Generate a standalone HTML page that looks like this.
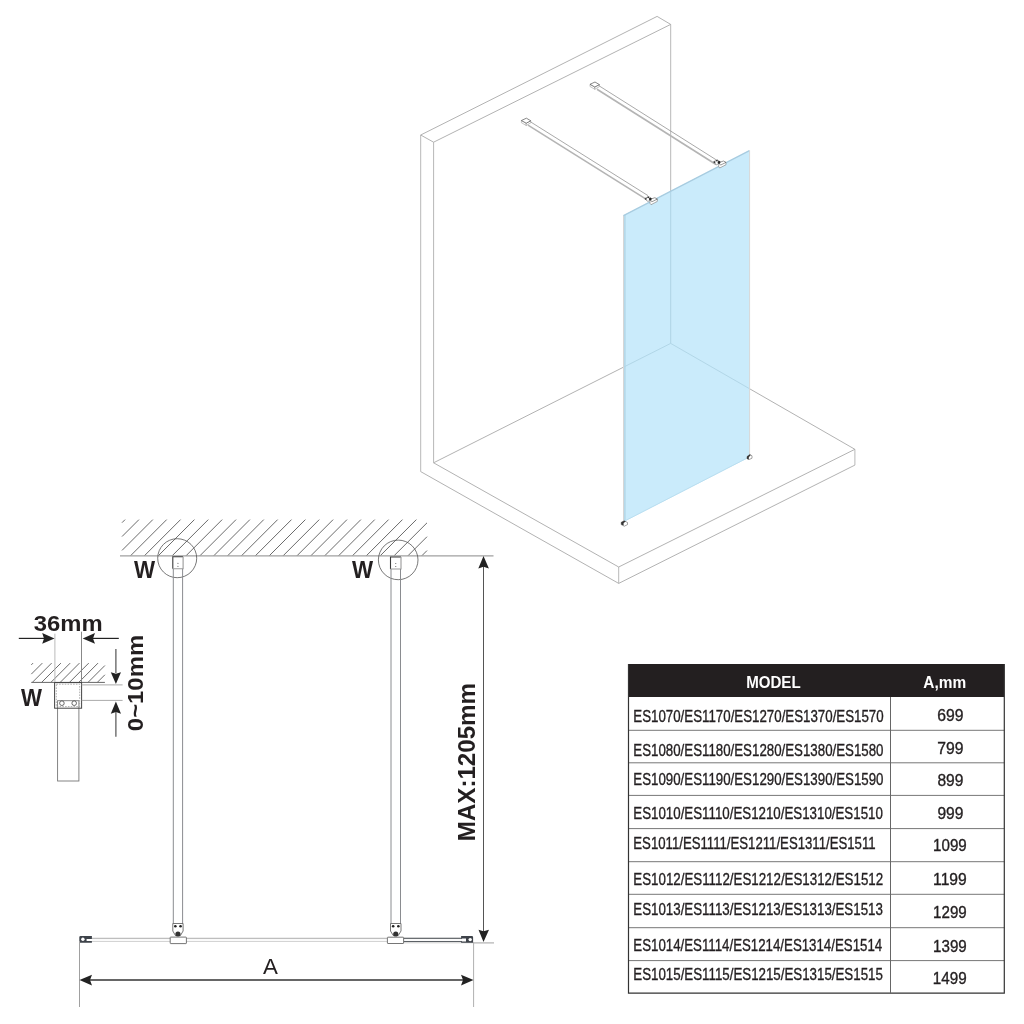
<!DOCTYPE html>
<html><head><meta charset="utf-8"><style>
html,body{margin:0;padding:0;background:#fff;width:1024px;height:1024px;overflow:hidden}
svg{display:block;will-change:transform}
text{font-family:"Liberation Sans", sans-serif}
</style></head><body>
<svg width="1024" height="1024" viewBox="0 0 1024 1024">
<path d="M420.7 471.6 L420.7 135 M433.6 142.2 L433.6 462.8 M670.7 24.4 L670.7 343.4 M618.7 567 L618.7 583.4 M854.9 449.3 L854.9 465.1" fill="none" stroke="#b8b8b8" stroke-width="1"/><path d="M420.7 135 L657.1 16.4 L670.7 24.4 L433.6 142.2 L420.7 135 M670.7 343.4 L433.6 462.8 L618.7 567 L854.9 449.3 L670.7 343.4 M420.7 471.6 L618.7 583.4 L854.9 465.1" fill="none" stroke="#a9a9a9" stroke-width="0.9" stroke-linejoin="round"/>
<defs><clipPath id="gc"><path d="M623 215.5 L749.6 150.2 L749.6 457.3 L623 522.3 Z"/></clipPath></defs>
<path d="M623 215.5 L749.6 150.2 L749.6 457.3 L623 522.3 Z" fill="#caebfb" stroke="none"/>
<g clip-path="url(#gc)"><path d="M420.7 471.6 L420.7 135 M433.6 142.2 L433.6 462.8 M670.7 24.4 L670.7 343.4 M618.7 567 L618.7 583.4 M854.9 449.3 L854.9 465.1" fill="none" stroke="#afd4e4" stroke-width="1"/><path d="M420.7 135 L657.1 16.4 L670.7 24.4 L433.6 142.2 L420.7 135 M670.7 343.4 L433.6 462.8 L618.7 567 L854.9 449.3 L670.7 343.4 M420.7 471.6 L618.7 583.4 L854.9 465.1" fill="none" stroke="#afd4e4" stroke-width="0.9" stroke-linejoin="round"/></g>
<path d="M623.5 215.4 L623.5 522" fill="none" stroke="#d6d6d6" stroke-width="1"/>
<path d="M624.9 214.9 L624.9 521.4" fill="none" stroke="#b0d5e6" stroke-width="1.4"/>
<path d="M623.5 215.6 L749.4 150.6" fill="none" stroke="#a8cce0" stroke-width="1.3"/>
<path d="M623.5 521.6 L749.4 456.9" fill="none" stroke="#b8dcee" stroke-width="0.9"/>
<path d="M749.6 150.5 L749.6 457" fill="none" stroke="#d8d8d8" stroke-width="1"/>
<path d="M528.00 120.27L648.00 195.63" stroke="#9a9a9a" stroke-width="0.85" fill="none"/><path d="M528.00 125.07L648.00 200.43" stroke="#b4b4b4" stroke-width="1.6" fill="none"/>
<path d="M597.00 84.50L716.00 159.71" stroke="#9a9a9a" stroke-width="0.85" fill="none"/><path d="M597.00 89.30L716.00 164.51" stroke="#b4b4b4" stroke-width="1.6" fill="none"/>
<path d="M521.4 120.5 L521.4 122.7 L526.1999999999999 125.5 L526.1999999999999 123.2 Z" fill="#fff" stroke="#aaa" stroke-width="0.7"/><path d="M526.1999999999999 123.2 L526.1999999999999 125.5 L530.8 122.8 L530.8 120.8 Z" fill="#fff" stroke="#999" stroke-width="0.6"/><path d="M521.4 120.5 L526.4 118.2 L530.8 120.8 L526.1999999999999 123.2 Z" fill="#fff" stroke="#555" stroke-width="0.7"/>
<path d="M590 84.3 L590 86.5 L594.8 89.3 L594.8 87 Z" fill="#fff" stroke="#aaa" stroke-width="0.7"/><path d="M594.8 87 L594.8 89.3 L599.4 86.6 L599.4 84.6 Z" fill="#fff" stroke="#999" stroke-width="0.6"/><path d="M590 84.3 L595 82 L599.4 84.6 L594.8 87 Z" fill="#fff" stroke="#555" stroke-width="0.7"/>
<path d="M644.5 198.70000000000002 L648.5 196.5 L651.8 198.70000000000002 L648 201.5 Z" fill="#fff" stroke="#777" stroke-width="0.7"/><circle cx="645.9" cy="198.8" r="0.9" fill="#333"/><circle cx="648.2" cy="197.3" r="0.9" fill="#333"/><path d="M650 199.3 L650 203.3 L651 204.70000000000002 L657.3 201.4 L657.3 199.10000000000002 Z" fill="#fff" stroke="#777" stroke-width="0.6"/><path d="M650 199.3 L654.9 197.70000000000002 L657.3 199.10000000000002 L651.8 201.8 Z" fill="#fff" stroke="#555" stroke-width="0.6"/><circle cx="650.3" cy="199.10000000000002" r="1.3" fill="#222"/>
<path d="M713.2 162.0 L717.2 159.79999999999998 L720.5 162.0 L716.7 164.79999999999998 Z" fill="#fff" stroke="#777" stroke-width="0.7"/><circle cx="714.6" cy="162.1" r="0.9" fill="#333"/><circle cx="716.9000000000001" cy="160.6" r="0.9" fill="#333"/><path d="M718.7 162.6 L718.7 166.6 L719.7 168.0 L726.0 164.7 L726.0 162.4 Z" fill="#fff" stroke="#777" stroke-width="0.6"/><path d="M718.7 162.6 L723.6 161.0 L726.0 162.4 L720.5 165.1 Z" fill="#fff" stroke="#555" stroke-width="0.6"/><circle cx="719.0" cy="162.4" r="1.3" fill="#222"/>
<path d="M621.2 522.3 L624.2 520.8 L627.5 522.5 L627.5 524.6 L624.3 526.2 L621.2 524.6Z" fill="#fff" stroke="#666" stroke-width="0.6"/>
<path d="M621.2 522.3 L624.2 520.8 L625.8 521.6 L623.6 523.1 L623.6 525.6 L621.2 524.6Z" fill="#333" stroke="none"/>
<path d="M747 456.6 L749.8 454.4 L752 455.8 L752 458.2 L749 459.6 L747 458.7Z" fill="#fff" stroke="#666" stroke-width="0.6"/>
<path d="M747 456.6 L749.8 454.4 L750.8 455 L748.8 457.2 L748.8 459.5 L747 458.7Z" fill="#333" stroke="none"/>
<path d="M122.00 522.69L125.09 519.60M122.00 536.56L138.96 519.60M122.00 550.43L152.83 519.60M130.50 555.80L166.70 519.60M144.37 555.80L180.57 519.60M158.24 555.80L194.44 519.60M172.11 555.80L208.31 519.60M185.98 555.80L222.18 519.60M199.85 555.80L236.05 519.60M213.72 555.80L249.92 519.60M227.59 555.80L263.79 519.60M241.46 555.80L277.66 519.60M255.33 555.80L291.53 519.60M269.20 555.80L305.40 519.60M283.07 555.80L319.27 519.60M296.94 555.80L333.14 519.60M310.81 555.80L347.01 519.60M324.68 555.80L360.88 519.60M338.55 555.80L374.75 519.60M352.42 555.80L388.62 519.60M366.29 555.80L402.49 519.60M380.16 555.80L416.36 519.60M394.03 555.80L427.00 522.83M407.90 555.80L427.00 536.70M421.77 555.80L427.00 550.57" stroke="#6a6a6a" stroke-width="1.0" fill="none"/>
<line x1="120" y1="555.8" x2="493.5" y2="555.8" stroke="#a0a0a0" stroke-width="1.3"/>
<circle cx="177.2" cy="558.2" r="19.5" fill="none" stroke="#555" stroke-width="0.8"/>
<circle cx="398.2" cy="559.9" r="19.8" fill="none" stroke="#555" stroke-width="0.8"/>
<rect x="172.8" y="556.8" width="10.299999999999983" height="12" fill="#fff" stroke="none"/><path d="M172.8 568.8 L172.8 556.8 L183.1 556.8" stroke="#3a3a3a" stroke-width="1.1" fill="none"/><path d="M183.1 556.8 L183.1 568.8 L172.8 568.8" stroke="#9a9a9a" stroke-width="1.1" fill="none"/><circle cx="177.95" cy="563.3" r="0.6" fill="#666"/><circle cx="177.95" cy="566.3" r="0.6" fill="#666"/><path d="M173.3 568.8 L173.3 923.5 M182.6 568.8 L182.6 923.5" stroke="#8a8c90" stroke-width="1" fill="none"/><path d="M172.8 923.5 L183.1 923.5 L183.1 931 L180.45 935.5 L175.45 935.5 L172.8 931 Z" fill="#fff" stroke="#555" stroke-width="0.8"/><circle cx="175.35" cy="926.2" r="1.3" fill="#222"/><circle cx="180.54999999999998" cy="926.2" r="1.3" fill="#222"/><circle cx="177.95" cy="934" r="2.6" fill="#333"/>
<rect x="390.5" y="557.0" width="10.5" height="12" fill="#fff" stroke="none"/><path d="M390.5 569.0 L390.5 557.0 L401.0 557.0" stroke="#3a3a3a" stroke-width="1.1" fill="none"/><path d="M401.0 557.0 L401.0 569.0 L390.5 569.0" stroke="#9a9a9a" stroke-width="1.1" fill="none"/><circle cx="395.75" cy="563.5" r="0.6" fill="#666"/><circle cx="395.75" cy="566.5" r="0.6" fill="#666"/><path d="M391 569.0 L391 923.5 M400.5 569.0 L400.5 923.5" stroke="#8a8c90" stroke-width="1" fill="none"/><path d="M390.5 923.5 L401.0 923.5 L401.0 931 L398.25 935.5 L393.25 935.5 L390.5 931 Z" fill="#fff" stroke="#555" stroke-width="0.8"/><circle cx="393.15" cy="926.2" r="1.3" fill="#222"/><circle cx="398.35" cy="926.2" r="1.3" fill="#222"/><circle cx="395.75" cy="934" r="2.6" fill="#333"/>
<rect x="92" y="938.3" width="370" height="3.2" fill="#fafafa" stroke="none"/>
<path d="M92 938.3 L387 938.3 M403.6 938.3 L462 938.3" stroke="#9a9a9a" stroke-width="0.8" fill="none"/>
<path d="M92 941.5 L387 941.5" stroke="#cfcfcf" stroke-width="0.9" fill="none"/>
<path d="M403.6 938.3 L462 938.3 M403.6 941.5 L462 941.5" stroke="#4a4f55" stroke-width="0.9" fill="none"/>
<path d="M403.6 942.8 L473 942.8" stroke="#c8c8c8" stroke-width="0.9" fill="none"/>
<rect x="170.2" y="937.1" width="16.2" height="6.5" fill="#fff" stroke="#666" stroke-width="0.9" rx="0.5"/>
<rect x="387.4" y="937.2" width="16.2" height="6.3" fill="#fff" stroke="#666" stroke-width="0.9" rx="0.5"/>
<path d="M91.9 935.9 L80.6 935.9 Q79.3 935.9 79.3 937.2 L79.3 942.8 L91.9 942.8 L91.9 941.1 L86.6 941.1 L86.6 938.9 L91.9 938.9Z" fill="#3e434a" stroke="none"/>
<circle cx="82.9" cy="939.2" r="1.7" fill="#fff"/>
<path d="M461.1 936 L471.8 936 Q473.1 936 473.1 937.3 L473.1 942.7 L461.1 942.7 L461.1 941.4 L466 941.4 L466 938.4 L461.1 938.4Z" fill="#3e434a" stroke="none"/>
<circle cx="470.2" cy="939.6" r="1.7" fill="#fff"/>
<line x1="79.5" y1="941" x2="79.5" y2="1007" stroke="#a0a0a0" stroke-width="1"/>
<line x1="473.6" y1="942" x2="473.6" y2="1007" stroke="#b0b0b0" stroke-width="1"/>
<line x1="473" y1="942.9" x2="494" y2="942.9" stroke="#b0b0b0" stroke-width="1.2"/>
<line x1="90" y1="980" x2="463" y2="980" stroke="#333" stroke-width="1.4"/>
<path d="M79.5 980 L92 974.7 L90 980 L92 985.4Z" fill="#222"/>
<path d="M473.5 980 L461 974.7 L463 980 L461 985.4Z" fill="#222"/>
<line x1="483.5" y1="566" x2="483.5" y2="932" stroke="#555" stroke-width="1"/>
<path d="M483.5 556.1 L478.3 568.4 L483.5 566.8 L488.9 568.4Z" fill="#222"/>
<path d="M483.5 942 L478.5 929.8 L483.5 931.3 L489 929.8Z" fill="#222"/>
<path d="M31.30 664.86L33.06 663.10M31.30 674.14L42.34 663.10M32.32 682.40L51.62 663.10M41.60 682.40L60.90 663.10M50.88 682.40L70.18 663.10M60.16 682.40L79.46 663.10M69.44 682.40L88.74 663.10M78.72 682.40L98.02 663.10M88.00 682.40L104.90 665.50M97.28 682.40L104.90 674.78" stroke="#5a5a5a" stroke-width="0.9" fill="none"/>
<line x1="31.3" y1="682.4" x2="104.9" y2="682.4" stroke="#666" stroke-width="1"/>
<line x1="54.9" y1="633.7" x2="54.9" y2="682.4" stroke="#bbb" stroke-width="1"/>
<line x1="81.5" y1="631.7" x2="81.5" y2="682.4" stroke="#888" stroke-width="1"/>
<line x1="18.8" y1="638.4" x2="44" y2="638.4" stroke="#222" stroke-width="1.2"/>
<path d="M54.5 638.4 L42.2 633.1 L44 638.4 L42.2 643.7Z" fill="#222"/>
<line x1="93" y1="638.4" x2="118.8" y2="638.4" stroke="#222" stroke-width="1.2"/>
<path d="M82.7 638.4 L95 633.1 L93 638.4 L95 643.7Z" fill="#222"/>
<rect x="57.6" y="700.7" width="21.3" height="80.3" fill="#fff" stroke="#777" stroke-width="0.9"/>
<rect x="54.6" y="682.6" width="27" height="25.6" fill="none" stroke="#444" stroke-width="1"/>
<rect x="56.3" y="684.2" width="23.4" height="22.4" fill="none" stroke="#999" stroke-width="0.8" stroke-dasharray="1.6 1.2"/>
<circle cx="61.9" cy="703.2" r="2.3" fill="#fff" stroke="#444" stroke-width="0.8"/>
<circle cx="74.2" cy="703.2" r="2.3" fill="#fff" stroke="#444" stroke-width="0.8"/>
<line x1="81.7" y1="684.9" x2="122.6" y2="684.9" stroke="#aaa" stroke-width="1"/>
<line x1="81.7" y1="700.4" x2="122.6" y2="700.4" stroke="#aaa" stroke-width="1"/>
<line x1="115.9" y1="648.9" x2="115.9" y2="673" stroke="#444" stroke-width="1.1"/>
<path d="M115.9 684 L110.8 672.2 L115.9 673.8 L121 672.2Z" fill="#222"/>
<line x1="115.9" y1="712" x2="115.9" y2="736.7" stroke="#444" stroke-width="1.1"/>
<path d="M115.9 701.5 L110.8 713.7 L115.9 712 L121 713.7Z" fill="#222"/>
<rect x="628.5" y="664" width="375.8" height="33" fill="#231f20"/>
<path d="M628.5 730.3L1004.3 730.3M628.5 762.8L1004.3 762.8M628.5 795.4L1004.3 795.4M628.5 828.6L1004.3 828.6M628.5 861.7L1004.3 861.7M628.5 894.3L1004.3 894.3M628.5 927.7L1004.3 927.7M628.5 960.6L1004.3 960.6" stroke="#777" stroke-width="1" fill="none"/>
<path d="M628.5 664 L628.5 993.2 L1004.3 993.2 L1004.3 664" stroke="#333" stroke-width="1.2" fill="none"/>
<path d="M890.5 697 L890.5 993" stroke="#666" stroke-width="1" fill="none"/>
<text x="133.95" y="577.77" font-weight="bold" font-size="23.05" textLength="21.10" lengthAdjust="spacingAndGlyphs" fill="#231f20">W</text>
<text x="352.10" y="577.95" font-weight="bold" font-size="23.05" textLength="21.10" lengthAdjust="spacingAndGlyphs" fill="#231f20">W</text>
<text x="20.99" y="706.25" font-weight="bold" font-size="23.05" textLength="21.01" lengthAdjust="spacingAndGlyphs" fill="#231f20">W</text>
<text x="33.80" y="630.50" font-weight="bold" font-size="22.86" textLength="68.85" lengthAdjust="spacingAndGlyphs" fill="#231f20">36mm</text>
<text transform="translate(142.88 731.15) rotate(-90)" font-weight="bold" font-size="22.36" textLength="96.30" lengthAdjust="spacingAndGlyphs" fill="#231f20">0~10mm</text>
<text transform="translate(475.37 841.20) rotate(-90)" font-weight="bold" font-size="23.07" textLength="158.15" lengthAdjust="spacingAndGlyphs" fill="#231f20">MAX:1205mm</text>
<text x="262.95" y="974.38" font-weight="normal" font-size="22.95" textLength="14.90" lengthAdjust="spacingAndGlyphs" fill="#231f20">A</text>
<text x="746.15" y="688.00" font-weight="bold" font-size="16.15" textLength="54.50" lengthAdjust="spacingAndGlyphs" fill="#ffffff">MODEL</text>
<text x="923.35" y="687.97" font-weight="bold" font-size="16.30" textLength="42.85" lengthAdjust="spacingAndGlyphs" fill="#ffffff">A,mm</text>
<text x="633.30" y="722.00" font-weight="normal" font-size="16.00" textLength="250.35" lengthAdjust="spacingAndGlyphs" fill="#231f20" stroke="#231f20" stroke-width="0.35">ES1070/ES1170/ES1270/ES1370/ES1570</text>
<text x="633.30" y="755.80" font-weight="normal" font-size="16.00" textLength="250.20" lengthAdjust="spacingAndGlyphs" fill="#231f20" stroke="#231f20" stroke-width="0.35">ES1080/ES1180/ES1280/ES1380/ES1580</text>
<text x="633.30" y="785.35" font-weight="normal" font-size="16.00" textLength="250.20" lengthAdjust="spacingAndGlyphs" fill="#231f20" stroke="#231f20" stroke-width="0.35">ES1090/ES1190/ES1290/ES1390/ES1590</text>
<text x="633.30" y="819.00" font-weight="normal" font-size="16.00" textLength="249.55" lengthAdjust="spacingAndGlyphs" fill="#231f20" stroke="#231f20" stroke-width="0.35">ES1010/ES1110/ES1210/ES1310/ES1510</text>
<text x="633.30" y="848.85" font-weight="normal" font-size="16.00" textLength="242.30" lengthAdjust="spacingAndGlyphs" fill="#231f20" stroke="#231f20" stroke-width="0.35">ES1011/ES1111/ES1211/ES1311/ES1511</text>
<text x="633.30" y="884.70" font-weight="normal" font-size="16.00" textLength="249.80" lengthAdjust="spacingAndGlyphs" fill="#231f20" stroke="#231f20" stroke-width="0.35">ES1012/ES1112/ES1212/ES1312/ES1512</text>
<text x="633.30" y="915.35" font-weight="normal" font-size="16.00" textLength="249.55" lengthAdjust="spacingAndGlyphs" fill="#231f20" stroke="#231f20" stroke-width="0.35">ES1013/ES1113/ES1213/ES1313/ES1513</text>
<text x="633.30" y="950.80" font-weight="normal" font-size="16.00" textLength="248.85" lengthAdjust="spacingAndGlyphs" fill="#231f20" stroke="#231f20" stroke-width="0.35">ES1014/ES1114/ES1214/ES1314/ES1514</text>
<text x="633.30" y="980.40" font-weight="normal" font-size="16.00" textLength="249.55" lengthAdjust="spacingAndGlyphs" fill="#231f20" stroke="#231f20" stroke-width="0.35">ES1015/ES1115/ES1215/ES1315/ES1515</text>
<text x="937.20" y="720.75" font-weight="normal" font-size="15.89" textLength="26.25" lengthAdjust="spacingAndGlyphs" fill="#231f20" stroke="#231f20" stroke-width="0.35">699</text>
<text x="937.20" y="753.62" font-weight="normal" font-size="15.89" textLength="26.25" lengthAdjust="spacingAndGlyphs" fill="#231f20" stroke="#231f20" stroke-width="0.35">799</text>
<text x="937.45" y="786.48" font-weight="normal" font-size="15.89" textLength="26.00" lengthAdjust="spacingAndGlyphs" fill="#231f20" stroke="#231f20" stroke-width="0.35">899</text>
<text x="937.45" y="818.85" font-weight="normal" font-size="15.89" textLength="26.00" lengthAdjust="spacingAndGlyphs" fill="#231f20" stroke="#231f20" stroke-width="0.35">999</text>
<text x="933.10" y="850.92" font-weight="normal" font-size="15.89" textLength="33.65" lengthAdjust="spacingAndGlyphs" fill="#231f20" stroke="#231f20" stroke-width="0.35">1099</text>
<text x="933.10" y="884.98" font-weight="normal" font-size="15.89" textLength="33.65" lengthAdjust="spacingAndGlyphs" fill="#231f20" stroke="#231f20" stroke-width="0.35">1199</text>
<text x="933.10" y="918.48" font-weight="normal" font-size="15.89" textLength="33.65" lengthAdjust="spacingAndGlyphs" fill="#231f20" stroke="#231f20" stroke-width="0.35">1299</text>
<text x="933.10" y="952.02" font-weight="normal" font-size="15.89" textLength="33.65" lengthAdjust="spacingAndGlyphs" fill="#231f20" stroke="#231f20" stroke-width="0.35">1399</text>
<text x="932.75" y="983.65" font-weight="normal" font-size="15.89" textLength="33.85" lengthAdjust="spacingAndGlyphs" fill="#231f20" stroke="#231f20" stroke-width="0.35">1499</text>
</svg>
</body></html>
